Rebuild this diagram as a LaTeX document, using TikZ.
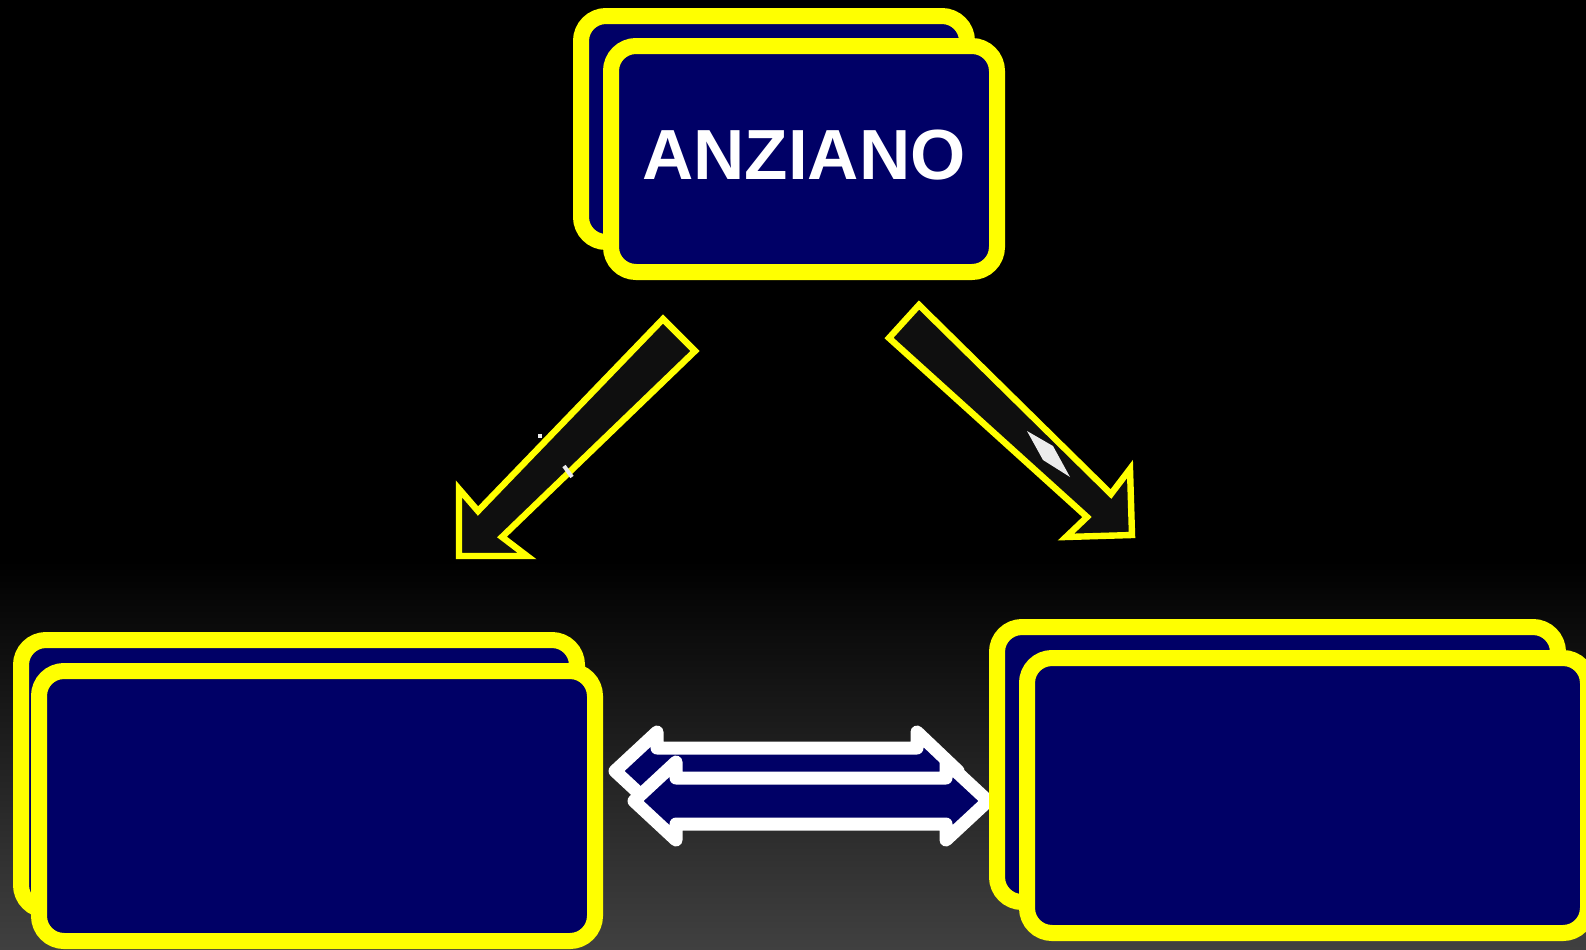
\documentclass[tikz,border=0pt]{standalone}
\usepackage{fontspec}
\newfontfamily\cardfont{Liberation Sans}
\usetikzlibrary{calc,positioning}
\definecolor{cardblue}{HTML}{000066}
\definecolor{cardedge}{HTML}{FFFF00}
\definecolor{arrowfill}{HTML}{0F0F0F}
\definecolor{floorgray}{HTML}{404040}

\begin{document}
\begin{tikzpicture}[x=0.5pt,y=-0.5pt,
  card/.style={draw=cardedge,fill=cardblue,line width=8pt,rounded corners=12.5pt,
    inner sep=0pt,text=white,font=\cardfont\bfseries\fontsize{35.5}{40}\selectfont},
  topcard/.style={card,minimum width=193pt,minimum height=113pt},
  leftcard/.style={card,minimum width=278pt,minimum height=135pt},
  rightcard/.style={card,minimum width=280.5pt,minimum height=137.5pt},
  blockarrow/.style={draw=cardedge,fill=arrowfill,line width=3.2pt},
  twoway/.style={draw=white,fill=cardblue,line width=6.5pt,line join=round,line cap=round}
]
\useasboundingbox (0,0) rectangle (1586,949);

% background
\fill[black] (0,0) rectangle (1586,949);
\shade[top color=black,bottom color=floorgray] (0,560) rectangle (1586,949);

% top cards
\node[topcard] (anzianoback) at (774,129) {};
\node[topcard] (anziano) at ($(anzianoback)+(30,30)$) {};
\node[text=white,font=\cardfont\bfseries\fontsize{35.5}{40}\selectfont,inner sep=0pt]
  (anzianolabel) at ($(anziano)+(0,-4)$) {ANZIANO};

% block arrows
\draw[blockarrow] (663,319) -- (695,351) -- (502,537) -- (527,556) -- (459,556)
  -- (459,489) -- (478,511) -- cycle;
\draw[white!92!black,line width=2pt] (564,466) -- (572,477);
\fill[white!92!black] (538,434) rectangle (542,438);
\draw[blockarrow] (919,305) -- (1111,494) -- (1130,469) -- (1132,535) -- (1066,537)
  -- (1087,517) -- (889,338) -- cycle;
\fill[white!92!black] (1027,431) -- (1053,446) -- (1070,477) -- (1043,460) -- cycle;

% two-way arrows
\draw[twoway] (615,771) -- (657,732) -- (657,748) -- (917,748) -- (917,732) -- (958,771)
  -- (917,810) -- (917,794) -- (657,794) -- (657,810) -- cycle;
\draw[twoway] (634,801) -- (676,762) -- (676,778) -- (946,778) -- (946,762) -- (988,801)
  -- (946,840) -- (946,824) -- (676,824) -- (676,840) -- cycle;

% bottom cards
\node[leftcard] (leftback) at (299,775) {};
\node[leftcard] (leftfront) at ($(leftback)+(18,31)$) {};
\node[rightcard] (rightback) at (1277.5,764.5) {};
\node[rightcard] (rightfront) at ($(rightback)+(30,31)$) {};
\end{tikzpicture}
\end{document}
